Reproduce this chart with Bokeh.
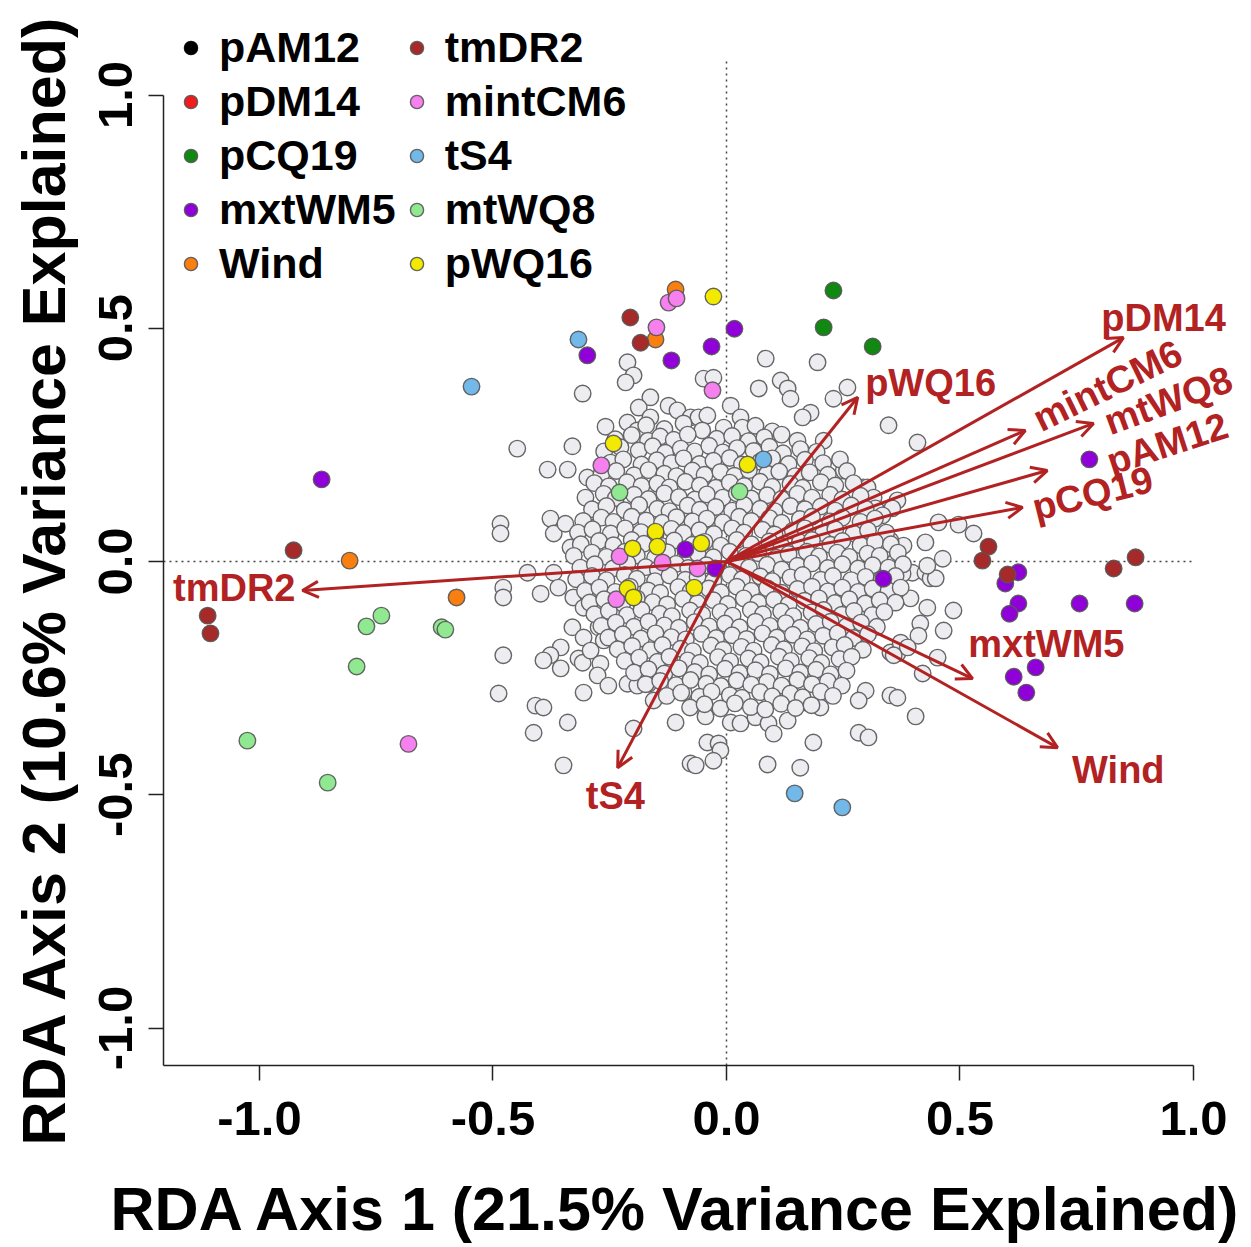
import math
from bokeh.plotting import figure
from bokeh.models import (ColumnDataSource, Arrow, OpenHead, Legend, LegendItem, FixedTicker,
                          Range1d, LabelSet, Label)
from bokeh.core.properties import value
from bokeh.embed import file_html
from bokeh.resources import INLINE

FONT = "Liberation Sans"

# ---------------- data ----------------
categories = ["pAM12", "pDM14", "pCQ19", "mxtWM5", "Wind",
              "tmDR2", "mintCM6", "tS4", "mtWQ8", "pWQ16"]
cat_colors = ["#000000", "#ee1c1c", "#118811", "#9000d8", "#f98010",
              "#a72a2a", "#f580ee", "#72b8e8", "#90e890", "#f2ea00"]

pAM12_x, pAM12_y = [], []
pDM14_x, pDM14_y = [], []
pCQ19_x = [0.229, 0.208, 0.313]
pCQ19_y = [0.581, 0.502, 0.461]
mxtWM5_x = [-0.867, -0.298, -0.118, -0.032, 0.017, 0.777, 0.336, 0.625, 0.597, 0.625, 0.606,
            0.756, 0.874, 0.662, 0.615, 0.642, -0.088, -0.024]
mxtWM5_y = [0.176, 0.442, 0.431, 0.461, 0.499, 0.219, -0.037, -0.023, -0.047, -0.090, -0.112,
            -0.090, -0.090, -0.227, -0.247, -0.281, 0.026, -0.015]
Wind_x = [-0.807, -0.578, -0.109, -0.152]
Wind_y = [0.002, -0.077, 0.583, 0.476]
tmDR2_x = [-0.927, -1.111, -1.105, -0.206, -0.184, 0.561, 0.548, 0.602, 0.829, 0.876]
tmDR2_y = [0.024, -0.116, -0.154, 0.523, 0.469, 0.032, 0.002, -0.028, -0.015, 0.009]
mintCM6_x = [-0.124, -0.107, -0.150, -0.030, -0.268, -0.229, -0.137, -0.062, -0.236, -0.681]
mintCM6_y = [0.555, 0.564, 0.502, 0.367, 0.206, 0.011, -0.002, -0.015, -0.081, -0.391]
tS4_x = [-0.317, -0.546, 0.079, 0.146, 0.248]
tS4_y = [0.476, 0.375, 0.219, -0.497, -0.527]
mtWQ8_x = [-0.229, 0.028, -0.739, -0.771, -0.610, -0.602, -0.792, -1.026, -0.854]
mtWQ8_y = [0.148, 0.150, -0.116, -0.139, -0.141, -0.146, -0.225, -0.384, -0.474]
pWQ16_x = [-0.028, -0.242, 0.045, -0.152, -0.148, -0.201, -0.054, -0.212, -0.199, -0.069]
pWQ16_y = [0.568, 0.253, 0.208, 0.064, 0.032, 0.028, 0.039, -0.058, -0.077, -0.056]

cat_x = [pAM12_x, pDM14_x, pCQ19_x, mxtWM5_x, Wind_x, tmDR2_x, mintCM6_x, tS4_x, mtWQ8_x, pWQ16_x]
cat_y = [pAM12_y, pDM14_y, pCQ19_y, mxtWM5_y, Wind_y, tmDR2_y, mintCM6_y, tS4_y, mtWQ8_y, pWQ16_y]

# scattered (outer) grey sites
gray_outer = [
    (-0.212, 0.427), (-0.199, 0.399), (-0.216, 0.384), (-0.308, 0.360), (-0.049, 0.392),
    (-0.028, 0.394), (0.084, 0.435), (0.195, 0.427), (-0.163, 0.352), (-0.188, 0.330),
    (-0.124, 0.334), (-0.105, 0.324), (0.009, 0.334), (0.030, 0.309), (0.069, 0.371),
    (0.116, 0.388), (0.131, 0.371), (0.137, 0.349), (0.180, 0.319), (0.163, 0.309),
    (0.259, 0.373), (0.229, 0.349), (0.347, 0.292), (0.409, 0.255), (0.208, 0.259),
    (0.251, 0.195), (0.293, 0.159), (-0.259, 0.289), (-0.212, 0.298), (-0.191, 0.281),
    (-0.163, 0.309), (-0.077, 0.309), (-0.060, 0.309), (-0.041, 0.313), (-0.006, 0.287),
    (0.034, 0.287),
    (-0.448, 0.242), (-0.330, 0.247), (-0.383, 0.197), (-0.340, 0.197), (-0.298, 0.180),
    (-0.484, 0.081), (-0.484, 0.060), (-0.377, 0.092), (-0.370, 0.060), (-0.345, 0.081),
    (-0.334, 0.030), (-0.291, 0.073), (-0.426, -0.024), (-0.370, -0.024), (-0.478, -0.056),
    (-0.478, -0.077), (-0.398, -0.069), (-0.360, -0.056), (-0.328, -0.077), (-0.296, -0.073),
    (-0.306, -0.099), (-0.330, -0.141), (-0.306, -0.163), (-0.274, -0.141), (-0.355, -0.184),
    (-0.377, -0.201), (-0.392, -0.212), (-0.355, -0.229), (-0.317, -0.208), (-0.308, -0.217),
    (-0.291, -0.191), (-0.263, -0.169), (-0.270, -0.219), (-0.276, -0.244), (-0.253, -0.266),
    (-0.478, -0.201), (-0.488, -0.283), (-0.409, -0.309), (-0.392, -0.313), (-0.306, -0.281),
    (-0.340, -0.345), (-0.413, -0.367), (-0.349, -0.437), (-0.199, -0.358), (-0.109, -0.345),
    (-0.212, -0.262), (-0.191, -0.266), (-0.167, -0.262), (-0.156, -0.298), (-0.092, -0.281),
    (-0.077, -0.433),
    (-0.045, -0.332), (0.009, -0.345), (0.030, -0.347), (-0.041, -0.388), (-0.017, -0.390),
    (-0.013, -0.405), (-0.066, -0.437), (-0.028, -0.427), (0.088, -0.435), (0.158, -0.442),
    (0.186, -0.388), (0.062, -0.334), (0.090, -0.347), (0.101, -0.369), (0.131, -0.341),
    (0.165, -0.302), (0.148, -0.294), (0.201, -0.313),
    (0.394, -0.079), (0.430, -0.099), (0.486, -0.105), (0.415, -0.133), (0.465, -0.148),
    (0.411, -0.159), (0.351, -0.195), (0.366, -0.197), (0.452, -0.206), (0.420, -0.240),
    (0.298, -0.277), (0.283, -0.298), (0.351, -0.287), (0.366, -0.292), (0.405, -0.332),
    (0.283, -0.367), (0.304, -0.377), (0.497, 0.079), (0.529, 0.060), (0.426, 0.041),
    (0.463, 0.006), (0.379, 0.034), (0.351, 0.045), (0.398, -0.024), (0.426, -0.024),
    (0.437, -0.036), (0.448, -0.036), (0.302, 0.159), (0.315, 0.137), (0.366, 0.131),
    (0.355, 0.114), (0.319, 0.114), (0.334, 0.099), (0.454, 0.084), (0.358, 0.017),
    (0.336, 0.024), (0.430, -0.009), (0.377, -0.026), (0.308, -0.009), (0.291, 0.017),
    (0.373, -0.174), (0.388, -0.184), (0.358, -0.201),
]

# dense central cloud of grey sites
gray_core = [
    (-0.172, 0.292), (-0.133, 0.284), (-0.092, 0.296), (-0.052, 0.281), (0.062, 0.291), (0.098, 0.279),
    (-0.238, 0.262), (-0.203, 0.271), (-0.168, 0.259), (-0.142, 0.268), (-0.113, 0.261), (-0.083, 0.272),
    (-0.021, 0.263), (0.012, 0.269), (0.047, 0.258), (0.081, 0.266), (0.118, 0.272), (0.152, 0.259),
    (-0.262, 0.236), (-0.227, 0.245), (-0.188, 0.238), (-0.158, 0.247), (-0.131, 0.233), (-0.098, 0.242),
    (-0.068, 0.236), (-0.037, 0.248), (-0.008, 0.234), (0.023, 0.243), (0.058, 0.237), (0.092, 0.246),
    (0.121, 0.232), (0.158, 0.241), (0.193, 0.235),
    (-0.248, 0.212), (-0.221, 0.219), (-0.182, 0.208), (-0.149, 0.217), (-0.118, 0.211), (-0.092, 0.221),
    (-0.058, 0.209), (-0.028, 0.216), (0.007, 0.222), (0.033, 0.208), (0.072, 0.214), (0.098, 0.221),
    (0.133, 0.209), (0.168, 0.218), (0.207, 0.211), (0.243, 0.219),
    (-0.268, 0.187), (-0.236, 0.194), (-0.198, 0.185), (-0.167, 0.196), (-0.133, 0.188), (-0.107, 0.183),
    (-0.073, 0.195), (-0.047, 0.186), (-0.013, 0.192), (0.017, 0.184), (0.048, 0.196), (0.087, 0.188),
    (0.113, 0.193), (0.147, 0.183), (0.178, 0.191), (0.217, 0.186), (0.258, 0.194),
    (-0.283, 0.168), (-0.252, 0.161), (-0.213, 0.170), (-0.182, 0.162), (-0.148, 0.167), (-0.122, 0.159),
    (-0.088, 0.171), (-0.057, 0.163), (-0.023, 0.158), (0.007, 0.169), (0.038, 0.162), (0.072, 0.171),
    (0.098, 0.160), (0.137, 0.166), (0.163, 0.158), (0.202, 0.170), (0.233, 0.163), (0.272, 0.168),
    (-0.302, 0.137), (-0.263, 0.145), (-0.237, 0.136), (-0.198, 0.143), (-0.167, 0.134), (-0.133, 0.146),
    (-0.102, 0.138), (-0.068, 0.133), (-0.042, 0.144), (-0.008, 0.137), (0.022, 0.146), (0.053, 0.135),
    (0.087, 0.142), (0.118, 0.134), (0.152, 0.145), (0.183, 0.137), (0.222, 0.143), (0.248, 0.133),
    (0.287, 0.141),
    (-0.288, 0.112), (-0.257, 0.119), (-0.218, 0.110), (-0.187, 0.121), (-0.148, 0.113), (-0.122, 0.108),
    (-0.083, 0.120), (-0.057, 0.111), (-0.023, 0.117), (0.012, 0.109), (0.038, 0.121), (0.072, 0.113),
    (0.103, 0.108), (0.137, 0.119), (0.168, 0.112), (0.202, 0.118), (0.233, 0.109), (0.267, 0.120),
    (0.298, 0.113),
    (-0.307, 0.087), (-0.268, 0.094), (-0.242, 0.085), (-0.203, 0.096), (-0.172, 0.088), (-0.138, 0.083),
    (-0.107, 0.095), (-0.073, 0.086), (-0.042, 0.092), (-0.008, 0.084), (0.027, 0.096), (0.053, 0.087),
    (0.092, 0.093), (0.118, 0.083), (0.157, 0.091), (0.183, 0.096), (0.222, 0.086), (0.248, 0.094),
    (0.287, 0.085), (0.318, 0.092),
    (-0.318, 0.062), (-0.287, 0.069), (-0.248, 0.060), (-0.217, 0.071), (-0.183, 0.063), (-0.152, 0.058),
    (-0.118, 0.070), (-0.092, 0.061), (-0.058, 0.067), (-0.027, 0.059), (0.012, 0.071), (0.038, 0.062),
    (0.077, 0.068), (0.103, 0.058), (0.142, 0.066), (0.168, 0.071), (0.207, 0.061), (0.233, 0.069),
    (0.272, 0.060), (0.303, 0.067), (0.342, 0.062),
    (-0.312, 0.037), (-0.273, 0.044), (-0.242, 0.035), (-0.203, 0.046), (-0.177, 0.038), (-0.138, 0.033),
    (-0.112, 0.045), (-0.073, 0.036), (-0.047, 0.042), (-0.012, 0.034), (0.022, 0.046), (0.053, 0.037),
    (0.092, 0.043), (0.118, 0.033), (0.157, 0.041), (0.183, 0.046), (0.222, 0.036), (0.248, 0.044),
    (0.287, 0.035), (0.318, 0.042), (0.352, 0.037),
    (-0.327, 0.012), (-0.288, 0.019), (-0.257, 0.010), (-0.218, 0.021), (-0.192, 0.013), (-0.153, 0.008),
    (-0.127, 0.020), (-0.088, 0.011), (-0.062, 0.017), (-0.028, 0.009), (0.007, 0.021), (0.042, 0.012),
    (0.068, 0.018), (0.107, 0.008), (0.133, 0.016), (0.172, 0.021), (0.198, 0.011), (0.237, 0.019),
    (0.263, 0.010), (0.302, 0.017), (0.328, 0.012), (0.367, 0.019),
    (-0.313, -0.013), (-0.282, -0.006), (-0.243, -0.015), (-0.212, -0.004), (-0.173, -0.012), (-0.147, -0.017),
    (-0.108, -0.005), (-0.082, -0.014), (-0.043, -0.008), (-0.017, -0.016), (0.022, -0.004), (0.048, -0.013),
    (0.087, -0.007), (0.118, -0.017), (0.152, -0.009), (0.183, -0.004), (0.217, -0.014), (0.248, -0.006),
    (0.282, -0.015), (0.313, -0.008), (0.347, -0.013), (0.378, -0.006),
    (-0.322, -0.038), (-0.288, -0.031), (-0.257, -0.040), (-0.218, -0.029), (-0.192, -0.037), (-0.153, -0.042),
    (-0.122, -0.030), (-0.088, -0.039), (-0.062, -0.033), (-0.028, -0.041), (0.007, -0.029), (0.033, -0.038),
    (0.072, -0.032), (0.098, -0.042), (0.137, -0.034), (0.163, -0.029), (0.202, -0.039), (0.228, -0.031),
    (0.267, -0.040), (0.298, -0.033), (0.332, -0.038), (0.362, -0.031),
    (-0.303, -0.063), (-0.272, -0.056), (-0.238, -0.065), (-0.207, -0.054), (-0.168, -0.062), (-0.142, -0.067),
    (-0.103, -0.055), (-0.077, -0.064), (-0.038, -0.058), (-0.012, -0.066), (0.022, -0.054), (0.053, -0.063),
    (0.087, -0.057), (0.118, -0.067), (0.152, -0.059), (0.183, -0.054), (0.217, -0.064), (0.248, -0.056),
    (0.282, -0.065), (0.313, -0.058), (0.347, -0.063), (0.373, -0.056),
    (-0.293, -0.088), (-0.262, -0.081), (-0.223, -0.090), (-0.192, -0.079), (-0.158, -0.087), (-0.127, -0.092),
    (-0.093, -0.080), (-0.062, -0.089), (-0.028, -0.083), (0.003, -0.091), (0.037, -0.079), (0.068, -0.088),
    (0.102, -0.082), (0.133, -0.092), (0.167, -0.084), (0.198, -0.079), (0.232, -0.089), (0.263, -0.081),
    (0.297, -0.090), (0.328, -0.083), (0.362, -0.088),
    (-0.283, -0.113), (-0.252, -0.106), (-0.213, -0.115), (-0.182, -0.104), (-0.143, -0.112), (-0.117, -0.117),
    (-0.078, -0.105), (-0.052, -0.114), (-0.013, -0.108), (0.013, -0.116), (0.052, -0.104), (0.078, -0.113),
    (0.117, -0.107), (0.143, -0.117), (0.182, -0.109), (0.208, -0.104), (0.247, -0.114), (0.273, -0.106),
    (0.312, -0.115), (0.338, -0.108),
    (-0.268, -0.138), (-0.237, -0.131), (-0.198, -0.140), (-0.167, -0.129), (-0.133, -0.137), (-0.102, -0.142),
    (-0.068, -0.130), (-0.037, -0.139), (-0.003, -0.133), (0.028, -0.141), (0.062, -0.129), (0.093, -0.138),
    (0.127, -0.132), (0.158, -0.142), (0.192, -0.134), (0.223, -0.129), (0.257, -0.139), (0.288, -0.131),
    (0.322, -0.140),
    (-0.253, -0.163), (-0.222, -0.156), (-0.183, -0.165), (-0.152, -0.154), (-0.118, -0.162), (-0.087, -0.167),
    (-0.053, -0.155), (-0.022, -0.164), (0.012, -0.158), (0.043, -0.166), (0.077, -0.154), (0.108, -0.163),
    (0.142, -0.157), (0.173, -0.167), (0.207, -0.159), (0.238, -0.154), (0.272, -0.164), (0.303, -0.156),
    (-0.233, -0.188), (-0.202, -0.181), (-0.163, -0.190), (-0.137, -0.179), (-0.098, -0.187), (-0.072, -0.192),
    (-0.033, -0.180), (-0.007, -0.189), (0.032, -0.183), (0.058, -0.191), (0.097, -0.179), (0.123, -0.188),
    (0.162, -0.182), (0.188, -0.192), (0.227, -0.184), (0.253, -0.179), (0.292, -0.189),
    (-0.218, -0.213), (-0.187, -0.206), (-0.148, -0.215), (-0.122, -0.204), (-0.083, -0.212), (-0.057, -0.217),
    (-0.018, -0.205), (0.008, -0.214), (0.047, -0.208), (0.073, -0.216), (0.112, -0.204), (0.138, -0.213),
    (0.177, -0.207), (0.203, -0.217), (0.242, -0.209), (0.268, -0.204),
    (-0.198, -0.238), (-0.167, -0.231), (-0.133, -0.240), (-0.102, -0.229), (-0.068, -0.237), (-0.037, -0.242),
    (-0.003, -0.230), (0.028, -0.239), (0.062, -0.233), (0.093, -0.241), (0.127, -0.229), (0.158, -0.238),
    (0.192, -0.232), (0.223, -0.242), (0.257, -0.234),
    (-0.173, -0.263), (-0.142, -0.256), (-0.108, -0.265), (-0.077, -0.254), (-0.043, -0.262), (-0.012, -0.267),
    (0.022, -0.255), (0.053, -0.264), (0.087, -0.258), (0.118, -0.266), (0.152, -0.254), (0.183, -0.263),
    (0.217, -0.257), (0.247, -0.266),
    (-0.128, -0.288), (-0.097, -0.281), (-0.058, -0.290), (-0.032, -0.279), (0.007, -0.287), (0.033, -0.292),
    (0.072, -0.280), (0.098, -0.289), (0.137, -0.283), (0.163, -0.291), (0.202, -0.279), (0.228, -0.288),
    (-0.078, -0.313), (-0.047, -0.306), (-0.013, -0.315), (0.018, -0.304), (0.052, -0.312), (0.083, -0.317),
    (0.117, -0.305), (0.148, -0.314), (0.182, -0.308),
]

# biplot arrows (environmental variables)
arrow_names = ["pDM14", "mintCM6", "mtWQ8", "pAM12", "pCQ19", "pWQ16", "mxtWM5", "Wind", "tS4", "tmDR2"]
arrow_x = [0.850, 0.640, 0.786, 0.687, 0.634, 0.281, 0.527, 0.709, -0.233, -0.908]
arrow_y = [0.480, 0.281, 0.296, 0.195, 0.116, 0.352, -0.251, -0.399, -0.442, -0.062]
label_x = [0.936, 0.816, 0.946, 0.944, 0.784, 0.437, 0.685, 0.839, -0.238, -1.054]
label_y = [0.521, 0.377, 0.345, 0.253, 0.146, 0.382, -0.176, -0.446, -0.502, -0.056]
label_angle_deg = [0, 26, 20, 18, 14, 0, 0, 0, 0, 0]

x_ticks = [-1.0, -0.5, 0.0, 0.5, 1.0]
x_tick_labels = ["-1.0", "-0.5", "0.0", "0.5", "1.0"]
y_ticks = [-1.0, -0.5, 0.0, 0.5, 1.0]
y_tick_labels = ["-1.0", "-0.5", "0.0", "0.5", "1.0"]

x_title = "RDA Axis 1 (21.5% Variance Explained)"
y_title = "RDA Axis 2 (10.6% Variance Explained)"

# ---------------- layout (data units of the canvas) ----------------
plot_xlim = (-1.2056, 1.0043)      # the R plotting region (axes meet at its lower-left corner)
plot_ylim = (-1.0804, 1.0739)
canvas_xlim = (-1.5546, 1.1242)    # whole picture
canvas_ylim = (-1.4705, 1.2026)
x_title_pos = (-1.319, -1.3869)    # start of baseline
y_title_pos = (-1.4625, -1.2519)

W, H = 1251, 1247
p = figure(width=W, height=H, output_backend="svg", toolbar_location=None,
           x_range=Range1d(*canvas_xlim), y_range=Range1d(*canvas_ylim),
           min_border_left=0, min_border_right=0, min_border_top=0, min_border_bottom=0)
p.grid.visible = False
p.outline_line_color = None
p.background_fill_color = "white"
p.border_fill_color = "white"

for ax, ticks, labels in ((p.xaxis, x_ticks, x_tick_labels), (p.yaxis, y_ticks, y_tick_labels)):
    ax.ticker = FixedTicker(ticks=ticks)
    ax.major_label_overrides = {t: l for t, l in zip(ticks, labels)}
    ax.minor_tick_line_color = None
    ax.major_tick_in = 0
    ax.major_tick_out = 15
    ax.major_tick_line_width = 1.5
    ax.axis_line_width = 1.5
    ax.axis_line_color = "#222222"
    ax.major_tick_line_color = "#222222"
    ax.major_label_text_font = FONT
    ax.major_label_text_font_style = "bold"
    ax.major_label_text_font_size = "49px"
    ax.major_label_text_color = "black"

p.xaxis.fixed_location = plot_ylim[0]
p.yaxis.fixed_location = plot_xlim[0]
p.xaxis.bounds = (plot_xlim[0], 1.0)
p.yaxis.bounds = (plot_ylim[0], 1.0)
p.xaxis.major_label_standoff = 21
p.yaxis.major_label_standoff = 16
p.yaxis.major_label_orientation = "vertical"

# axis titles
title_style = dict(text_font=FONT, text_font_style="bold", text_font_size="61px",
                   text_color="black", text_align="left", text_baseline="alphabetic")
p.add_layout(Label(x=x_title_pos[0], y=x_title_pos[1], text=x_title, **title_style))
p.add_layout(Label(x=y_title_pos[0], y=y_title_pos[1], text=y_title, angle=math.pi / 2, **title_style))

# dotted reference lines through the origin
p.segment(x0=[0], y0=[plot_ylim[0]], x1=[0], y1=[plot_ylim[1]],
          line_color="#444444", line_width=1.5, line_dash="2 4")
p.segment(x0=[plot_xlim[0]], y0=[0], x1=[plot_xlim[1]], y1=[0],
          line_color="#444444", line_width=1.5, line_dash="2 4")

gray_pts = gray_outer + gray_core
gray_x = [pt[0] for pt in gray_pts]
gray_y = [pt[1] for pt in gray_pts]
PT = 16.5
p.scatter(gray_x, gray_y, size=PT, fill_color="#ececf1", line_color="#666666", line_width=1.4)

renderers = {}
for name, col, xs, ys in zip(categories, cat_colors, cat_x, cat_y):
    lc = "#000000" if name == "pAM12" else "#555555"
    xs_draw = xs if xs else [float("nan")]   # legend-only variables
    ys_draw = ys if ys else [float("nan")]
    r = p.scatter(x=xs_draw, y=ys_draw, size=PT, fill_color=col, line_color=lc,
                  line_width=1.4, line_alpha=0.9)
    renderers[name] = r

# arrows
ARROW_COL = "#b22222"
asrc = ColumnDataSource(dict(x0=[0.0] * len(arrow_x), y0=[0.0] * len(arrow_y), x1=arrow_x, y1=arrow_y))
p.add_layout(Arrow(source=asrc, x_start="x0", y_start="y0", x_end="x1", y_end="y1",
                   line_color=ARROW_COL, line_width=3,
                   end=OpenHead(size=16, line_color=ARROW_COL, line_width=3)))

lsrc = ColumnDataSource(dict(x=label_x, y=label_y, text=arrow_names,
                             angle=[math.radians(a) for a in label_angle_deg]))
p.add_layout(LabelSet(x="x", y="y", text="text", angle="angle", source=lsrc,
                      text_font=value(FONT), text_font_style="bold", text_font_size="38px",
                      text_color=ARROW_COL, text_align="center", text_baseline="middle"))

legend = Legend(items=[LegendItem(label=n, renderers=[renderers[n]]) for n in categories],
                ncols=2, orientation="vertical", location=(174, 959),
                label_text_font=FONT, label_text_font_style="bold", label_text_font_size="43px",
                label_text_color="black", glyph_width=33, glyph_height=33, label_standoff=12,
                label_height=50, spacing=4, padding=0, margin=0,
                border_line_color=None, background_fill_alpha=0)
p.add_layout(legend)

open("out.html", "w").write(file_html(p, INLINE))
